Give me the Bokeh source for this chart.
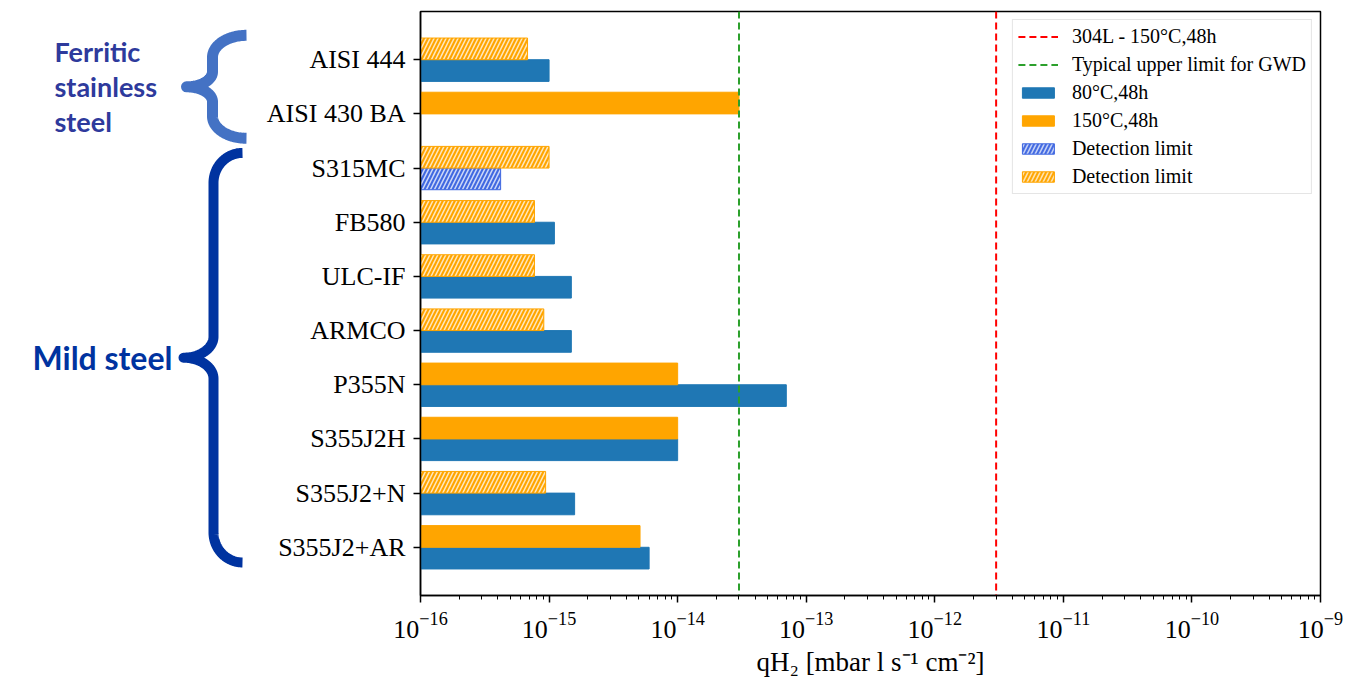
import numpy as np
from bokeh.plotting import figure
from bokeh.models import Range1d, FixedTicker, Legend, LegendItem, LogTickFormatter
from bokeh.layouts import row
from bokeh.embed import file_html
from bokeh.resources import INLINE
from bokeh.core.properties import value

# ---------------- data ----------------
categories = ["AISI 444", "AISI 430 BA", "S315MC", "FB580", "ULC-IF",
              "ARMCO", "P355N", "S355J2H", "S355J2+N", "S355J2+AR"]
q_80C = [1.0e-15, None, 4.2e-16, 1.1e-15, 1.49e-15,
         1.49e-15, 7.0e-14, 1.0e-14, 1.58e-15, 6.0e-15]
q_80C_det_limit = [False, False, True, False, False,
                   False, False, False, False, False]
q_150C = [6.8e-16, 3.0e-14, 1.0e-15, 7.7e-16, 7.7e-16,
          9.1e-16, 1.0e-14, 1.0e-14, 9.4e-16, 5.1e-15]
q_150C_det_limit = [True, False, True, True, True,
                    True, False, False, True, False]
ref_304L_150C = 3e-12
gwd_upper_limit = 3e-14
decades = [-16, -15, -14, -13, -12, -11, -10, -9]
group_labels = ["Ferritic\nstainless\nsteel", "Mild steel"]
group_first = [0, 2]
group_last = [1, 9]

# ---------------- layout constants ----------------
H = 685
TOP, BOTTOM = 11, 90
LEFT_W = 258
MAIN_W = 1092
bar_h = 0.4
n = len(categories)
pad = 0.05 * ((n - 1) + 2 * bar_h)
y_lo, y_hi = -bar_h - pad, (n - 1) + bar_h + pad
frame_h = H - TOP - BOTTOM
ppu = frame_h / (y_hi - y_lo)

x_lo, x_hi = float(f"1e{decades[0]}"), float(f"1e{decades[-1]}")

SERIF = "Liberation Serif"
BLUE = "#1f77b4"
ORANGE = "#FFA500"
HATCH_BLUE = "#4169E1"

p = figure(width=MAIN_W, height=H, x_axis_type="log",
           x_range=Range1d(x_lo, x_hi), y_range=Range1d(y_hi, y_lo),
           output_backend="svg", toolbar_location=None,
           min_border_left=420 - LEFT_W, min_border_right=30,
           min_border_top=TOP, min_border_bottom=BOTTOM)
p.grid.visible = False
p.outline_line_color = "black"
p.outline_line_width = 1.5
p.background_fill_color = "white"


def sel(vals, flags, want):
    ys, xs = [], []
    for i, (v, f) in enumerate(zip(vals, flags)):
        if v is not None and f == want:
            ys.append(i)
            xs.append(v)
    return ys, xs


common = dict(height=bar_h, left=x_lo)
hatch = dict(hatch_pattern="/", hatch_color="white", hatch_alpha=0.75,
             hatch_weight=1.5, hatch_scale=8)

y, x = sel(q_80C, q_80C_det_limit, False)
r80 = p.hbar(y=[v + bar_h / 2 for v in y], right=x, fill_color=BLUE,
             line_color=BLUE, **common)
y, x = sel(q_80C, q_80C_det_limit, True)
r80d = p.hbar(y=[v + bar_h / 2 for v in y], right=x, fill_color=HATCH_BLUE,
              line_color=HATCH_BLUE, **hatch, **common)
y, x = sel(q_150C, q_150C_det_limit, False)
r150 = p.hbar(y=[v - bar_h / 2 for v in y], right=x, fill_color=ORANGE,
              line_color=ORANGE, **common)
y, x = sel(q_150C, q_150C_det_limit, True)
r150d = p.hbar(y=[v - bar_h / 2 for v in y], right=x, fill_color=ORANGE,
               line_color=ORANGE, **hatch, **common)

rred = p.line(x=[ref_304L_150C, ref_304L_150C], y=[y_lo, y_hi],
              line_color="red", line_width=2, line_dash="7 4")
rgreen = p.line(x=[gwd_upper_limit, gwd_upper_limit], y=[y_lo, y_hi],
                line_color="#2ca02c", line_width=2, line_dash="7 4")

# axes
major = [float(f"1e{d}") for d in decades]
minor = [m * float(f"1e{d}") for d in decades[:-1] for m in range(2, 10)]
p.xaxis.ticker = FixedTicker(ticks=major, minor_ticks=minor)
p.xaxis.formatter = LogTickFormatter()
p.yaxis.ticker = FixedTicker(ticks=list(range(n)))
p.yaxis.major_label_overrides = {i: c for i, c in enumerate(categories)}

for ax in (p.xaxis[0], p.yaxis[0]):
    ax.axis_line_color = "black"
    ax.axis_line_width = 1.5
    ax.major_tick_line_color = "black"
    ax.major_tick_line_width = 1.5
    ax.major_tick_in = 0
    ax.major_tick_out = 7
    ax.major_label_text_font = SERIF
    ax.major_label_text_font_size = "26px"
    ax.major_label_text_color = "black"
p.xaxis.minor_tick_in = 0
p.xaxis.minor_tick_out = 4
p.xaxis.minor_tick_line_color = "black"
p.xaxis.minor_tick_line_width = 1
p.yaxis.minor_tick_line_color = None
p.xaxis.major_label_standoff = 10
p.yaxis.major_label_standoff = 8
p.xaxis.axis_label = "qH₂ [mbar l s⁻¹ cm⁻²]"
p.xaxis.axis_label_text_font = SERIF
p.xaxis.axis_label_text_font_size = "27px"
p.xaxis.axis_label_text_font_style = "normal"
p.xaxis.axis_label_text_color = "black"
p.xaxis.axis_label_standoff = 6

legend = Legend(items=[
    LegendItem(label="304L - 150°C,48h", renderers=[rred]),
    LegendItem(label="Typical upper limit for GWD", renderers=[rgreen]),
    LegendItem(label="80°C,48h", renderers=[r80]),
    LegendItem(label="150°C,48h", renderers=[r150]),
    LegendItem(label="Detection limit", renderers=[r80d]),
    LegendItem(label="Detection limit", renderers=[r150d]),
], location="top_right")
legend.label_text_font = SERIF
legend.label_text_font_size = "20px"
legend.label_text_color = "black"
legend.glyph_width = 40
legend.glyph_height = 13
legend.label_height = 20
legend.label_standoff = 14
legend.spacing = 5
legend.padding = 5
legend.margin = 8
legend.border_line_color = "#cccccc"
legend.border_line_width = 1.5
legend.background_fill_alpha = 1
p.add_layout(legend)

# ---------------- left annotation panel ----------------
bp = figure(width=LEFT_W, height=H, x_range=Range1d(0, LEFT_W),
            y_range=p.y_range, x_axis_type=None, y_axis_type=None,
            output_backend="svg", toolbar_location=None,
            min_border_left=0, min_border_right=0,
            min_border_top=TOP, min_border_bottom=BOTTOM)
bp.outline_line_color = None
bp.grid.visible = False


def brace_path(y_top, y_bot, x_tip, x_mid, x_end, ry_end_px, ry_tip_px):
    ry_e = ry_end_px / ppu
    ry_t = ry_tip_px / ppu
    rx_e = x_end - x_mid
    rx_t = x_mid - x_tip
    y_tip = (y_top + y_bot) / 2
    t = np.linspace(0, np.pi / 2, 40)
    xa = x_end - rx_e * np.sin(t)
    ya = y_top + ry_e - ry_e * np.cos(t)
    xb = x_tip + rx_t * np.cos(t)
    yb = y_tip - ry_t + ry_t * np.sin(t)
    xu = np.concatenate([xa, xb])
    yu = np.concatenate([ya, yb])
    xs = np.concatenate([xu, xu[::-1]])
    ys = np.concatenate([yu, (2 * y_tip - yu)[::-1]])
    return xs, ys


brace_styles = [
    dict(pad=0.45, x_tip=186, x_mid=212, x_end=246, ry_end=22, ry_tip=15,
         color="#4472C4", width=11),
    dict(pad=0.28, x_tip=183, x_mid=213, x_end=242, ry_end=30, ry_tip=21,
         color="#0033A0", width=10),
]
text_styles = [
    dict(x=54, size="27px", color="#2E3A9C", lh=1.06),
    dict(x=32, size="32px", color="#0033A0", lh=1.2),
]
for lab, g0, g1, bs, ts in zip(group_labels, group_first, group_last,
                               brace_styles, text_styles):
    xs, ys = brace_path(g0 - bs["pad"], g1 + bs["pad"], bs["x_tip"],
                        bs["x_mid"], bs["x_end"], bs["ry_end"], bs["ry_tip"])
    bp.line(x=xs, y=ys, line_color=bs["color"], line_width=bs["width"],
            line_join="round", line_cap="butt")
    bp.text(x=[ts["x"]], y=[(g0 + g1) / 2], text=[lab],
            text_font=value("Lato"), text_font_style="bold",
            text_font_size=ts["size"], text_color=ts["color"],
            text_align="left", text_baseline="middle",
            text_line_height=ts["lh"])

layout = row(bp, p)
open("out.html", "w").write(file_html(layout, INLINE))
